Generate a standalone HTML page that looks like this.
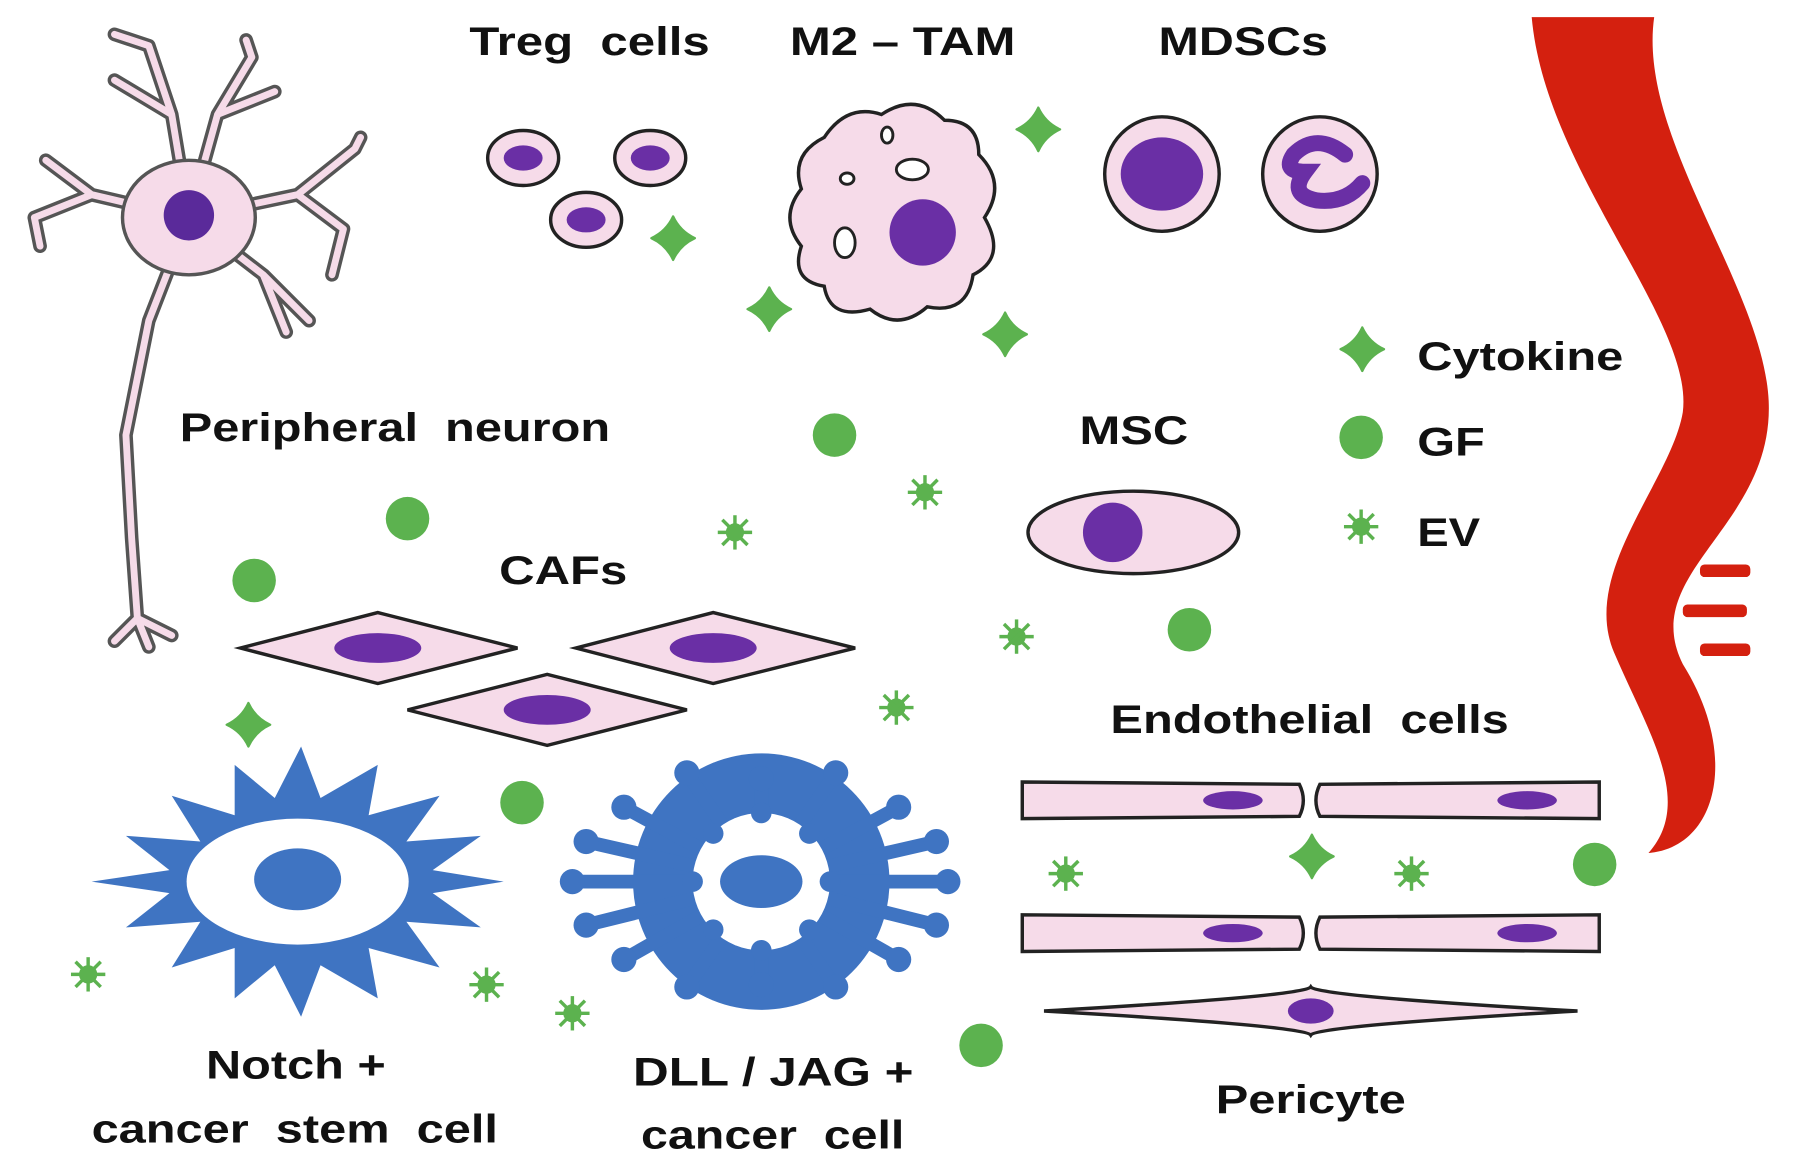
<!DOCTYPE html>
<html><head><meta charset="utf-8"><style>
html,body{margin:0;padding:0;background:#fff;}
svg{display:block;}
text{font-family:"Liberation Sans",sans-serif;font-weight:bold;font-size:35px;fill:#111;}
</style></head><body>
<svg width="1795" height="1169" viewBox="0 0 1568 1021" preserveAspectRatio="none" xmlns="http://www.w3.org/2000/svg">
<defs>
<g id="cy"><path d="M0,-19 Q6,-6 19,0 Q6,6 0,19 Q-6,6 -19,0 Q-6,-6 0,-19Z" fill="#5cb24f" stroke="#5cb24f" stroke-width="2" stroke-linejoin="round"/></g>
<g id="gf"><circle r="19" fill="#5cb24f"/></g>
<g id="ev"><circle r="8" fill="#5cb24f"/>
<g stroke="#5cb24f" stroke-width="3"><line x1="0" y1="-15" x2="0" y2="15"/><line x1="-15" y1="0" x2="15" y2="0"/><line x1="-11" y1="-11" x2="11" y2="11"/><line x1="-11" y1="11" x2="11" y2="-11"/></g></g>
</defs>

<!-- vessel -->
<path d="M1338,15 L1445,15 C1430,120 1540,250 1545,350 C1550,460 1430,500 1470,580 C1520,660 1500,740 1440,745 C1480,700 1440,640 1410,570 C1380,500 1460,420 1470,360 C1480,280 1350,150 1338,15Z" fill="#d4200f"/>
<rect x="1485" y="493" width="44" height="11" rx="4" fill="#d4200f"/>
<rect x="1470" y="528" width="56" height="11" rx="4" fill="#d4200f"/>
<rect x="1485" y="562" width="44" height="11" rx="4" fill="#d4200f"/>

<!-- neuron -->
<g fill="none" stroke-linecap="round" stroke-linejoin="round">
<g stroke="#555" stroke-width="12">
<path d="M165,190 L150,100 L130,40 M150,100 L100,70 M130,40 L100,30"/>
<path d="M165,190 L190,100 L220,50 M190,100 L240,80 M220,50 L215,35"/>
<path d="M165,190 L80,170 L30,190 M80,170 L40,140 M30,190 L35,215"/>
<path d="M165,190 L260,170 L310,130 M260,170 L300,200 L290,240 M310,130 L315,120"/>
<path d="M165,190 L230,240 L270,280 M230,240 L250,290"/>
<path d="M165,190 L130,280 L110,380 L115,470 L120,540 M120,540 L100,560 M120,540 L150,555 M120,540 L130,565"/>
</g>
<g stroke="#f6dbe9" stroke-width="6">
<path d="M165,190 L150,100 L130,40 M150,100 L100,70 M130,40 L100,30"/>
<path d="M165,190 L190,100 L220,50 M190,100 L240,80 M220,50 L215,35"/>
<path d="M165,190 L80,170 L30,190 M80,170 L40,140 M30,190 L35,215"/>
<path d="M165,190 L260,170 L310,130 M260,170 L300,200 L290,240 M310,130 L315,120"/>
<path d="M165,190 L230,240 L270,280 M230,240 L250,290"/>
<path d="M165,190 L130,280 L110,380 L115,470 L120,540 M120,540 L100,560 M120,540 L150,555 M120,540 L130,565"/>
</g></g>
<ellipse cx="165" cy="190" rx="58" ry="50" fill="#f6dbe9" stroke="#555" stroke-width="3"/>
<circle cx="165" cy="188" r="22" fill="#5a2a9a"/>

<!-- Treg -->
<g stroke="#222" stroke-width="3" fill="#f6dbe9">
<ellipse cx="457" cy="138" rx="31" ry="24"/><ellipse cx="568" cy="138" rx="31" ry="24"/><ellipse cx="512" cy="192" rx="31" ry="24"/></g>
<g fill="#6a2fa5"><ellipse cx="457" cy="138" rx="17" ry="11"/><ellipse cx="568" cy="138" rx="17" ry="11"/><ellipse cx="512" cy="192" rx="17" ry="11"/></g>

<!-- TAM -->
<path d="M720,120 Q740,90 770,100 Q800,80 825,105 Q855,105 855,135 Q880,160 860,190 Q880,225 850,240 Q845,275 810,268 Q785,290 760,270 Q725,280 720,250 Q690,245 700,215 Q680,190 700,165 Q690,135 720,120Z" fill="#f6dbe9" stroke="#222" stroke-width="3"/>
<circle cx="806" cy="203" r="29" fill="#6a2fa5"/>
<g fill="#fff" stroke="#222" stroke-width="2.5"><ellipse cx="775" cy="118" rx="5" ry="7"/><ellipse cx="797" cy="148" rx="14" ry="9"/><ellipse cx="740" cy="156" rx="6" ry="5"/><ellipse cx="738" cy="212" rx="9" ry="13"/></g>

<!-- MDSC -->
<g stroke="#222" stroke-width="3" fill="#f6dbe9"><circle cx="1015" cy="152" r="50"/><circle cx="1153" cy="152" r="50"/></g>
<ellipse cx="1015" cy="152" rx="36" ry="32" fill="#6a2fa5"/>
<path d="M1175,135 Q1150,115 1130,135 Q1120,150 1140,150 Q1125,170 1150,175 Q1175,178 1190,160" fill="none" stroke="#6a2fa5" stroke-width="14" stroke-linecap="round"/>

<!-- MSC -->
<ellipse cx="990" cy="465" rx="92" ry="36" fill="#f6dbe9" stroke="#222" stroke-width="3"/>
<circle cx="972" cy="465" r="26" fill="#6a2fa5"/>

<!-- CAFs -->
<g stroke="#222" stroke-width="3" fill="#f6dbe9">
<path d="M210,566 L330,535 L452,566 L330,597Z"/>
<path d="M503,566 L623,535 L747,566 L623,597Z"/>
<path d="M356,620 L478,589 L600,620 L478,651Z"/></g>
<g fill="#6a2fa5"><ellipse cx="330" cy="566" rx="38" ry="13"/><ellipse cx="623" cy="566" rx="38" ry="13"/><ellipse cx="478" cy="620" rx="38" ry="13"/></g>

<!-- Endothelial -->
<g stroke="#222" stroke-width="3" fill="#f6dbe9">
<path d="M893,683 L1135,685 Q1142,699 1135,713 L893,715Z"/>
<path d="M1153,685 L1397,683 L1397,715 L1153,713 Q1146,699 1153,685Z"/>
<path d="M893,799 L1135,801 Q1142,815 1135,829 L893,831Z"/>
<path d="M1153,801 L1397,799 L1397,831 L1153,829 Q1146,815 1153,801Z"/>
<path d="M912,883 Q1140,870 1145,862 Q1150,870 1378,883 Q1150,896 1145,904 Q1140,896 912,883Z"/></g>
<g fill="#6a2fa5"><ellipse cx="1077" cy="699" rx="26" ry="8"/><ellipse cx="1334" cy="699" rx="26" ry="8"/><ellipse cx="1077" cy="815" rx="26" ry="8"/><ellipse cx="1334" cy="815" rx="26" ry="8"/><ellipse cx="1145" cy="883" rx="20" ry="11"/></g>

<!-- Notch star -->
<polygon fill="#3f74c2" points="440,770 378,760 420,730 355,735 384,695 322,712 330,668 280,697 263,652 240,697 205,668 205,712 150,695 175,735 110,730 148,760 80,770 148,780 110,810 175,805 150,845 205,828 205,872 240,843 263,888 280,843 330,872 322,828 384,845 355,805 420,810 378,780"/>
<ellipse cx="260" cy="770" rx="97" ry="55" fill="#fff"/>
<ellipse cx="260" cy="768" rx="38" ry="27" fill="#3f74c2"/>

<!-- DLL/JAG -->
<circle cx="665" cy="770" r="112" fill="#3f74c2"/>
<g stroke="#3f74c2" stroke-width="12" stroke-linecap="round">
<line x1="665" y1="770" x2="665" y2="680"/><line x1="665" y1="770" x2="665" y2="860"/><line x1="665" y1="770" x2="500" y2="770"/><line x1="665" y1="770" x2="828" y2="770"/>
<line x1="665" y1="770" x2="545" y2="705"/><line x1="665" y1="770" x2="785" y2="705"/><line x1="665" y1="770" x2="545" y2="838"/><line x1="665" y1="770" x2="785" y2="838"/>
<line x1="665" y1="770" x2="600" y2="675"/><line x1="665" y1="770" x2="730" y2="675"/><line x1="665" y1="770" x2="600" y2="862"/><line x1="665" y1="770" x2="730" y2="862"/>
<line x1="665" y1="770" x2="512" y2="735"/><line x1="665" y1="770" x2="818" y2="735"/><line x1="665" y1="770" x2="512" y2="808"/><line x1="665" y1="770" x2="818" y2="808"/>
</g>
<g fill="#3f74c2"><circle cx="665" cy="680" r="11"/><circle cx="665" cy="860" r="11"/><circle cx="500" cy="770" r="11"/><circle cx="828" cy="770" r="11"/><circle cx="545" cy="705" r="11"/><circle cx="785" cy="705" r="11"/><circle cx="545" cy="838" r="11"/><circle cx="785" cy="838" r="11"/><circle cx="600" cy="675" r="11"/><circle cx="730" cy="675" r="11"/><circle cx="600" cy="862" r="11"/><circle cx="730" cy="862" r="11"/><circle cx="512" cy="735" r="11"/><circle cx="818" cy="735" r="11"/><circle cx="512" cy="808" r="11"/><circle cx="818" cy="808" r="11"/></g>
<circle cx="665" cy="770" r="60" fill="#fff"/>
<g fill="#3f74c2"><circle cx="665" cy="710" r="9"/><circle cx="665" cy="830" r="9"/><circle cx="605" cy="770" r="9"/><circle cx="725" cy="770" r="9"/><circle cx="623" cy="728" r="9"/><circle cx="707" cy="728" r="9"/><circle cx="623" cy="812" r="9"/><circle cx="707" cy="812" r="9"/></g>
<ellipse cx="665" cy="770" rx="36" ry="23" fill="#3f74c2"/>

<!-- particles -->
<use href="#cy" x="907" y="113"/><use href="#cy" x="588" y="208"/><use href="#cy" x="672" y="270"/><use href="#cy" x="878" y="292"/><use href="#cy" x="1190" y="305"/><use href="#cy" x="217" y="633"/><use href="#cy" x="1146" y="748"/>
<use href="#gf" x="729" y="380"/><use href="#gf" x="356" y="453"/><use href="#gf" x="222" y="507"/><use href="#gf" x="1189" y="382"/><use href="#gf" x="1039" y="550"/><use href="#gf" x="456" y="701"/><use href="#gf" x="1393" y="755"/><use href="#gf" x="857" y="913"/>
<use href="#ev" x="808" y="430"/><use href="#ev" x="642" y="465"/><use href="#ev" x="1189" y="460"/><use href="#ev" x="888" y="556"/><use href="#ev" x="783" y="618"/><use href="#ev" x="931" y="763"/><use href="#ev" x="1233" y="763"/><use href="#ev" x="77" y="851"/><use href="#ev" x="425" y="860"/><use href="#ev" x="500" y="885"/>

<!-- labels -->
<text x="410" y="48" textLength="210" lengthAdjust="spacingAndGlyphs" xml:space="preserve">Treg  cells</text>
<text x="690" y="48" textLength="197" lengthAdjust="spacingAndGlyphs">M2 – TAM</text>
<text x="1012" y="48" textLength="148" lengthAdjust="spacingAndGlyphs">MDSCs</text>
<text x="157" y="385" textLength="376" lengthAdjust="spacingAndGlyphs" xml:space="preserve">Peripheral  neuron</text>
<text x="943" y="388" textLength="95" lengthAdjust="spacingAndGlyphs">MSC</text>
<text x="1238" y="323" textLength="180" lengthAdjust="spacingAndGlyphs">Cytokine</text>
<text x="1238" y="398" textLength="59" lengthAdjust="spacingAndGlyphs">GF</text>
<text x="1238" y="477" textLength="55" lengthAdjust="spacingAndGlyphs">EV</text>
<text x="436" y="510" textLength="112" lengthAdjust="spacingAndGlyphs">CAFs</text>
<text x="970" y="640" textLength="348" lengthAdjust="spacingAndGlyphs" xml:space="preserve">Endothelial  cells</text>
<text x="180" y="942" textLength="157" lengthAdjust="spacingAndGlyphs">Notch +</text>
<text x="80" y="998" textLength="355" lengthAdjust="spacingAndGlyphs" xml:space="preserve">cancer  stem  cell</text>
<text x="553" y="948" textLength="245" lengthAdjust="spacingAndGlyphs">DLL / JAG +</text>
<text x="560" y="1003" textLength="230" lengthAdjust="spacingAndGlyphs" xml:space="preserve">cancer  cell</text>
<text x="1062" y="972" textLength="166" lengthAdjust="spacingAndGlyphs">Pericyte</text>
</svg>
</body></html>
